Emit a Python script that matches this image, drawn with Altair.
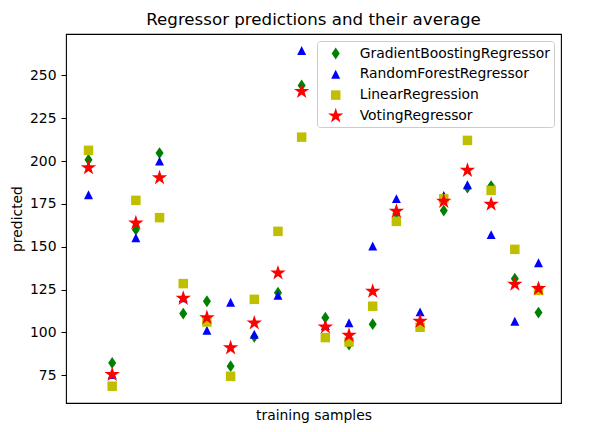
import altair as alt
import pandas as pd

samples = list(range(20))
series_names = ["GradientBoostingRegressor", "RandomForestRegressor",
                "LinearRegression", "VotingRegressor"]
gb = [200.8, 82.2, 160.0, 204.7, 111.0, 118.2, 80.3, 97.4, 123.2, 244.2,
      108.6, 92.9, 104.8, 169.2, 103.5, 171.1, 184.5, 185.4, 131.4, 111.6]
rf = [180.4, 75.4, 155.3, 200.0, 120.2, 101.3, 117.6, 98.9, 121.7, 264.6,
      104.0, 105.7, 150.4, 178.1, 112.0, 180.0, 186.2, 157.1, 106.5, 140.7]
lr = [206.3, 68.6, 177.1, 167.0, 128.5, 106.1, 74.4, 119.3, 159.0, 214.0,
      97.0, 94.4, 115.3, 164.8, 103.0, 178.0, 212.1, 182.9, 148.5, 124.5]
vr = [196.1, 75.4, 163.9, 190.3, 119.9, 108.6, 91.0, 105.5, 134.7, 240.7,
      103.2, 98.3, 124.0, 170.7, 106.5, 176.5, 194.6, 174.8, 128.1, 125.6]
y_ticks = [75, 100, 125, 150, 175, 200, 225, 250]

rows = []
for name, vals in zip(series_names, [gb, rf, lr, vr]):
    for i, v in zip(samples, vals):
        rows.append({"sample": i, "predicted": v, "model": name})
df = pd.DataFrame(rows)

colors = ["#008000", "#0000ff", "#bfbf00", "#ff0000"]
thin_diamond = "M0,-1L0.68,0L0,1L-0.68,0Z"
tri_up = "M0,-1L1,1L-1,1Z"
star = ("M0,-1L0.2245,-0.309L0.951,-0.309L0.363,0.118L0.588,0.809L0,0.382"
        "L-0.588,0.809L-0.363,0.118L-0.951,-0.309L-0.2245,-0.309Z")
shapes = [thin_diamond, tri_up, "square", star]
msizes = [140, 80, 90, 262]

size_expr = ""
for n, s in zip(series_names[:-1], msizes[:-1]):
    size_expr += f"datum.model === '{n}' ? {s} : "
size_expr += str(msizes[-1])

leg_size_expr = ""
for n, s in zip(series_names[:-1], msizes[:-1]):
    leg_size_expr += f"datum.value === '{n}' ? {s} : "
leg_size_expr += str(msizes[-1])

FONT = "DejaVu Sans"

leg = alt.Legend(
    orient="top-right", offset=7, padding=4, symbolOffset=6.2, labelOffset=15.5,
    labelFontSize=13.9, labelFont=FONT, labelColor="black", rowPadding=4.8,
    fillColor="rgba(255,255,255,0.8)", strokeColor="#cccccc", cornerRadius=3,
    symbolStrokeWidth=0, labelLimit=400, symbolOpacity=1,
    symbolSize={"expr": leg_size_expr},
)

chart = alt.Chart(
    df,
    title=alt.Title("Regressor predictions and their average", fontSize=16.67,
                    font=FONT, fontWeight="normal", color="black",
                    anchor="middle", offset=5),
).transform_calculate(
    msize=size_expr
).mark_point(filled=True, opacity=1).encode(
    x=alt.X("sample:Q",
            scale=alt.Scale(domain=[-0.95, 19.95], nice=False, zero=False),
            axis=alt.Axis(title="training samples", labels=False, ticks=False,
                          domain=False, grid=False, titlePadding=5,
                          titleFontSize=13.9, titleFont=FONT,
                          titleFontWeight="normal", titleColor="black")),
    y=alt.Y("predicted:Q",
            scale=alt.Scale(domain=[58.8, 274.2], nice=False, zero=False),
            axis=alt.Axis(values=y_ticks, title="predicted", domain=False,
                          grid=False, tickColor="black", tickSize=5,
                          tickWidth=1, labelPadding=5, labelFontSize=13.9,
                          labelFont=FONT, labelColor="black", titlePadding=5,
                          titleFontSize=13.9, titleFont=FONT,
                          titleFontWeight="normal", titleColor="black")),
    color=alt.Color("model:N", title=None,
                    scale=alt.Scale(domain=series_names, range=colors),
                    legend=leg),
    shape=alt.Shape("model:N", title=None,
                    scale=alt.Scale(domain=series_names, range=shapes),
                    legend=leg),
    size=alt.Size("msize:Q", scale=None),
).properties(
    width=495, height=369,
    padding={"left": 58, "top": 26, "right": 20, "bottom": 21},
    autosize=alt.AutoSizeParams(type="none"),
).configure_view(
    stroke="black", strokeWidth=1.1
)

chart.save("out.html", embed_options={"renderer": "svg", "actions": False})
